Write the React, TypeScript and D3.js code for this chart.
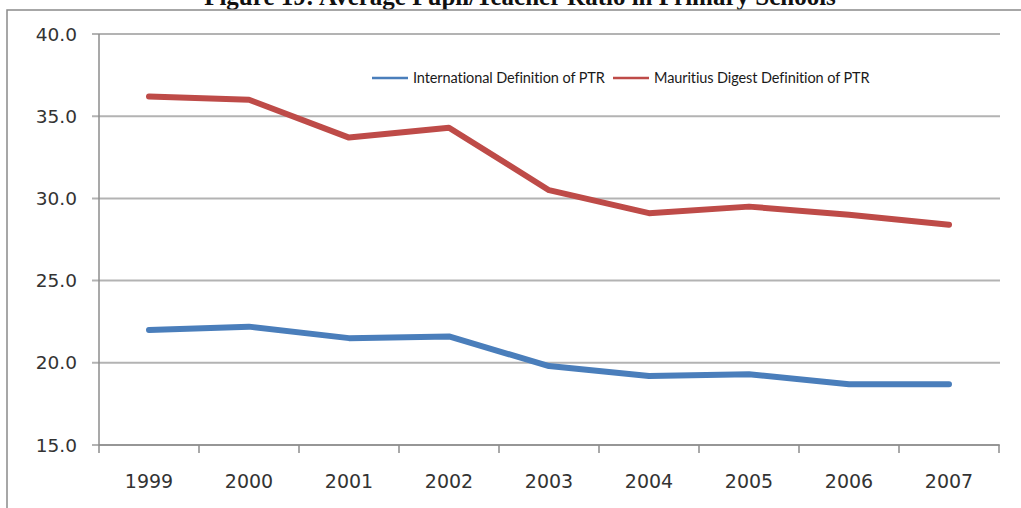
import React from "react";
import * as d3 from "d3";

const years = ["1999", "2000", "2001", "2002", "2003", "2004", "2005", "2006", "2007"];
const international = [22.0, 22.2, 21.5, 21.6, 19.8, 19.2, 19.3, 18.7, 18.7];
const mauritius = [36.2, 36.0, 33.7, 34.3, 30.5, 29.1, 29.5, 29.0, 28.4];
const yTicks = [15, 20, 25, 30, 35, 40];
const seriesNames = ["International Definition of PTR", "Mauritius Digest Definition of PTR"];
const seriesColors = ["#4A7EBB", "#BE4B48"];
const title = "Figure 19: Average Pupil/Teacher Ratio in Primary Schools";

export default function App() {
  const W = 1021, H = 508;
  const left = 99, right = 999, top = 34, bottom = 445;
  const x = d3.scaleBand<string>().domain(years).range([left, right]);
  const y = d3.scaleLinear().domain([15, 40]).range([bottom, top]);
  const line = d3.line<number>()
    .x((_, i) => (x(years[i]) as number) + x.bandwidth() / 2)
    .y((d) => y(d));
  const data = [international, mauritius];
  const tickFont = "'DejaVu Sans', Verdana, sans-serif";
  return (
    <svg width={W} height={H} style={{ position: "absolute", left: 0, top: 0, background: "#fff" }}>
      <rect x={0} y={0} width={W} height={H} fill="#fff" />
      <text x={520} y={5} textAnchor="middle" fontFamily="'Liberation Serif', 'Times New Roman', serif" fontWeight="bold" fontSize={25} fill="#111">{title}</text>
      <rect x={7} y={10} width={W + 20} height={H + 20} fill="none" stroke="#8a8a8a" strokeWidth={1.5} />
      {yTicks.map((t) => (
        <g key={t}>
          <line x1={left - 7} x2={right + 1} y1={y(t)} y2={y(t)} stroke="#b3b3b3" strokeWidth={2} />
          <text x={77} y={y(t) + 6.5} textAnchor="end" fontFamily={tickFont} fontSize={18.5} fill="#333">{t.toFixed(1)}</text>
        </g>
      ))}
      <line x1={left} x2={left} y1={top} y2={bottom} stroke="#8c8c8c" strokeWidth={1.5} />
      <line x1={left} x2={right} y1={bottom} y2={bottom} stroke="#8c8c8c" strokeWidth={1.5} />
      {years.map((yr) => (
        <line key={"tk" + yr} x1={x(yr) as number} x2={x(yr) as number} y1={bottom} y2={bottom + 8} stroke="#8c8c8c" strokeWidth={1.5} />
      ))}
      <line x1={right} x2={right} y1={bottom} y2={bottom + 8} stroke="#8c8c8c" strokeWidth={1.5} />
      {years.map((yr) => (
        <text key={yr} x={(x(yr) as number) + x.bandwidth() / 2} y={488} textAnchor="middle" fontFamily={tickFont} fontSize={19} fill="#333">{yr}</text>
      ))}
      {data.map((d, i) => (
        <path key={i} d={line(d) || ""} fill="none" stroke={seriesColors[i]} strokeWidth={6} strokeLinecap="round" strokeLinejoin="round" />
      ))}
      {seriesNames.map((n, i) => {
        const lx = i === 0 ? 372 : 613;
        return (
          <g key={n}>
            <line x1={lx} x2={lx + 36} y1={78} y2={78} stroke={seriesColors[i]} strokeWidth={2.5} />
            <text x={lx + 41} y={83} fontFamily="Lato, 'Open Sans', sans-serif" fontSize={14.5} fill="#1a1a1a" letterSpacing={-0.1}>{n}</text>
          </g>
        );
      })}
    </svg>
  );
}
